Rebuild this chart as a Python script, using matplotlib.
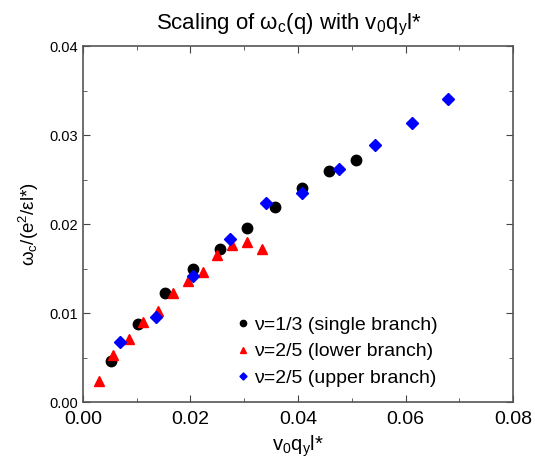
import matplotlib
matplotlib.use("Agg")
import matplotlib.pyplot as plt
from matplotlib.ticker import MultipleLocator, FormatStrFormatter

plt.rcParams['font.family'] = ['Liberation Sans', 'DejaVu Sans']
plt.rcParams['mathtext.default'] = 'regular'

# nu = 1/3 (single branch)
x13 = [0.00515, 0.01023, 0.01531, 0.02047, 0.02554, 0.03057, 0.03567, 0.04078, 0.04577, 0.05085]
y13 = [0.00461, 0.00876, 0.01231, 0.01501, 0.01722, 0.01962, 0.02189, 0.02411, 0.02604, 0.02722]
# nu = 2/5 (lower branch)
xlo = [0.00292, 0.00564, 0.0085, 0.01122, 0.01395, 0.01674, 0.01948, 0.02227, 0.02499, 0.02772, 0.03051, 0.03325]
ylo = [0.00243, 0.00531, 0.00708, 0.00899, 0.01029, 0.01225, 0.0136, 0.01464, 0.01658, 0.01771, 0.01798, 0.01726]
# nu = 2/5 (upper branch)
xup = [0.00694, 0.01364, 0.02052, 0.02729, 0.03405, 0.0408, 0.04759, 0.05438, 0.06115, 0.06791]
yup = [0.00674, 0.00958, 0.01419, 0.01833, 0.02242, 0.02349, 0.02624, 0.02894, 0.03135, 0.03411]

labels = ['\u03bd=1/3 (single branch)', '\u03bd=2/5 (lower branch)', '\u03bd=2/5 (upper branch)']

fig = plt.figure(figsize=(5.35, 4.62), dpi=100)
ax = fig.add_axes([0.155, 0.129, 0.804, 0.771])

ax.plot(x13, y13, 'o', color='black', markersize=7.5, linestyle='none', label=labels[0])
ax.plot(xlo, ylo, '^', color='#ff0000', markersize=7.5, linestyle='none', label=labels[1])
ax.plot(xup, yup, 'D', color='#0000ff', markersize=6, linestyle='none', label=labels[2])

ax.set_xlim(0, 0.08)
ax.set_ylim(0, 0.04)
ax.xaxis.set_major_locator(MultipleLocator(0.02))
ax.xaxis.set_minor_locator(MultipleLocator(0.01))
ax.yaxis.set_major_locator(MultipleLocator(0.01))
ax.yaxis.set_minor_locator(MultipleLocator(0.005))
ax.xaxis.set_major_formatter(FormatStrFormatter('%.2f'))
ax.yaxis.set_major_formatter(FormatStrFormatter('%.2f'))
ax.tick_params(which='both', direction='in', top=True, right=True, color='#444444')
ax.tick_params(which='major', length=5)
ax.tick_params(which='minor', length=3)
ax.tick_params(axis='x', labelsize=14, pad=6)
ax.tick_params(axis='y', labelsize=10.5)
for s in ax.spines.values():
    s.set_color('#555555')
    s.set_linewidth(1.2)

ax.set_xlabel('$v_0q_yl$*', fontsize=14.5)
ax.set_ylabel('$\u03c9_c$/(e$^2$/\u03b5l*)', fontsize=13.5, labelpad=6)
ax.set_title('Scaling of $\u03c9_c$(q) with $v_0q_yl$*', fontsize=16, pad=12, x=0.48)

ax.legend(loc='lower right', bbox_to_anchor=(0.865, -0.005), frameon=False, fontsize=14,
          markerscale=0.6, handletextpad=0.05, handlelength=1.0, labelspacing=0.45)

fig.savefig('out.png', dpi=100)
